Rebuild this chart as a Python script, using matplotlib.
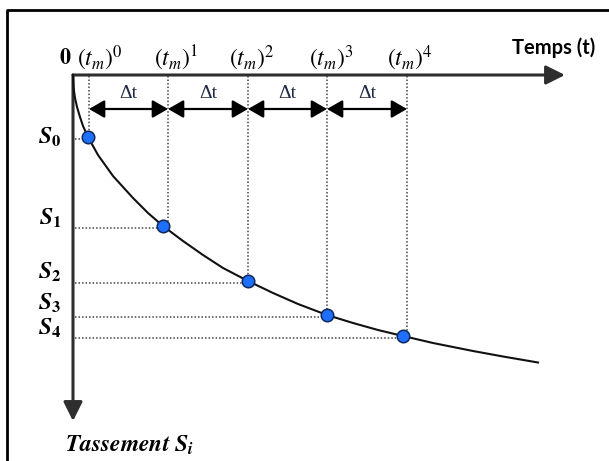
import matplotlib
matplotlib.use("Agg")
import matplotlib.pyplot as plt

plt.rcParams["mathtext.fontset"] = "stix"

# time of each reading (t_m)^k and the settlement read at it
t_marks = [16, 95, 175, 254, 334]
pt_t = [15, 90, 175, 254, 330]
pt_s = [62, 151, 206, 240, 261]
s_index = ["0", "1", "2", "3", "4"]
s_label_y = [62, 143, 197, 228, 253]
t_label_x = [27, 103, 179, 258, 337]

# settlement curve
curve_t = [0, 0.5, 1, 2, 4, 7, 10, 15, 20, 25, 40, 60, 75, 90, 110, 130, 150,
           175, 200, 225, 254, 280, 305, 330, 360, 400, 430, 465]
curve_s = [0, 11, 16, 23, 32, 42, 51, 62, 71, 80, 101, 123, 138, 151, 166, 180, 193,
           206, 218, 229, 240, 248, 255, 261, 268, 276, 281.5, 287.5]

fig = plt.figure(figsize=(6.09, 4.61), dpi=100)
ax = fig.add_axes([0, 0, 1, 1])
ax.set_xlim(-73, 536)
ax.set_ylim(386, -75)
ax.axis("off")

# frame
ax.plot([-66, -66, 540], [400, -65, -65], color="black", lw=2, clip_on=False)

axis_col = "#2e2e2e"
# time axis and settlement axis
for tip in [(492, 0), (0, 346)]:
    ax.annotate("", xy=tip, xytext=(0, 0),
                arrowprops=dict(arrowstyle="-|>,head_length=0.8,head_width=0.4",
                                mutation_scale=14.4, lw=2.2, color=axis_col,
                                shrinkA=0, shrinkB=0))

# guide lines down to / across to each reading
for tm, t, s in zip(t_marks, pt_t, pt_s):
    ax.plot([tm, tm], [1.5, s - 4], color="#444444", lw=1.1, ls=(0, (1, 1.3)))
    ax.plot([1.5, t - 4], [s + 2, s + 2], color="#444444", lw=1.1, ls=(0, (1, 1.3)))

ax.plot(curve_t, curve_s, color="#111111", lw=1.5, zorder=3)
ax.plot(pt_t, pt_s, "o", ms=9, mfc="#1f6fff", mec="#10285a", mew=1.1, zorder=4)

# Δt double arrows between readings
for a, b in zip(t_marks[:-1], t_marks[1:]):
    ax.annotate("", xy=(b, 34), xytext=(a, 34),
                arrowprops=dict(arrowstyle="<|-|>,head_length=0.78,head_width=0.45",
                                mutation_scale=12, lw=1.6, color="black",
                                shrinkA=0, shrinkB=0))
    ax.text((a + b) / 2, 18, "\u0394t", ha="center", va="center",
            fontsize=14, family="Liberation Serif", color="#1f2a44")

ax.text(-8, -17, r"$\mathbf{0}$", ha="center", va="center", fontsize=16)
for k, x in enumerate(t_label_x):
    ax.text(x, -17, r"$(t_m)^{%d}$" % k, ha="center", va="center", fontsize=17)

for idx, y in zip(s_index, s_label_y):
    ax.text(-23, y, r"$\mathbfit{S}_{\mathbf{%s}}$" % idx, ha="center",
            va="center", fontsize=17)

ax.text(481, -27, "Temps (t)", ha="center", va="center", fontsize=14.5,
        fontweight="bold", family=["Lato", "DejaVu Sans"])
ax.text(57, 370, r"$\mathbfit{Tassement}\ \mathbfit{S_i}$", ha="center",
        va="center", fontsize=17)

fig.savefig("out.png", dpi=100)
